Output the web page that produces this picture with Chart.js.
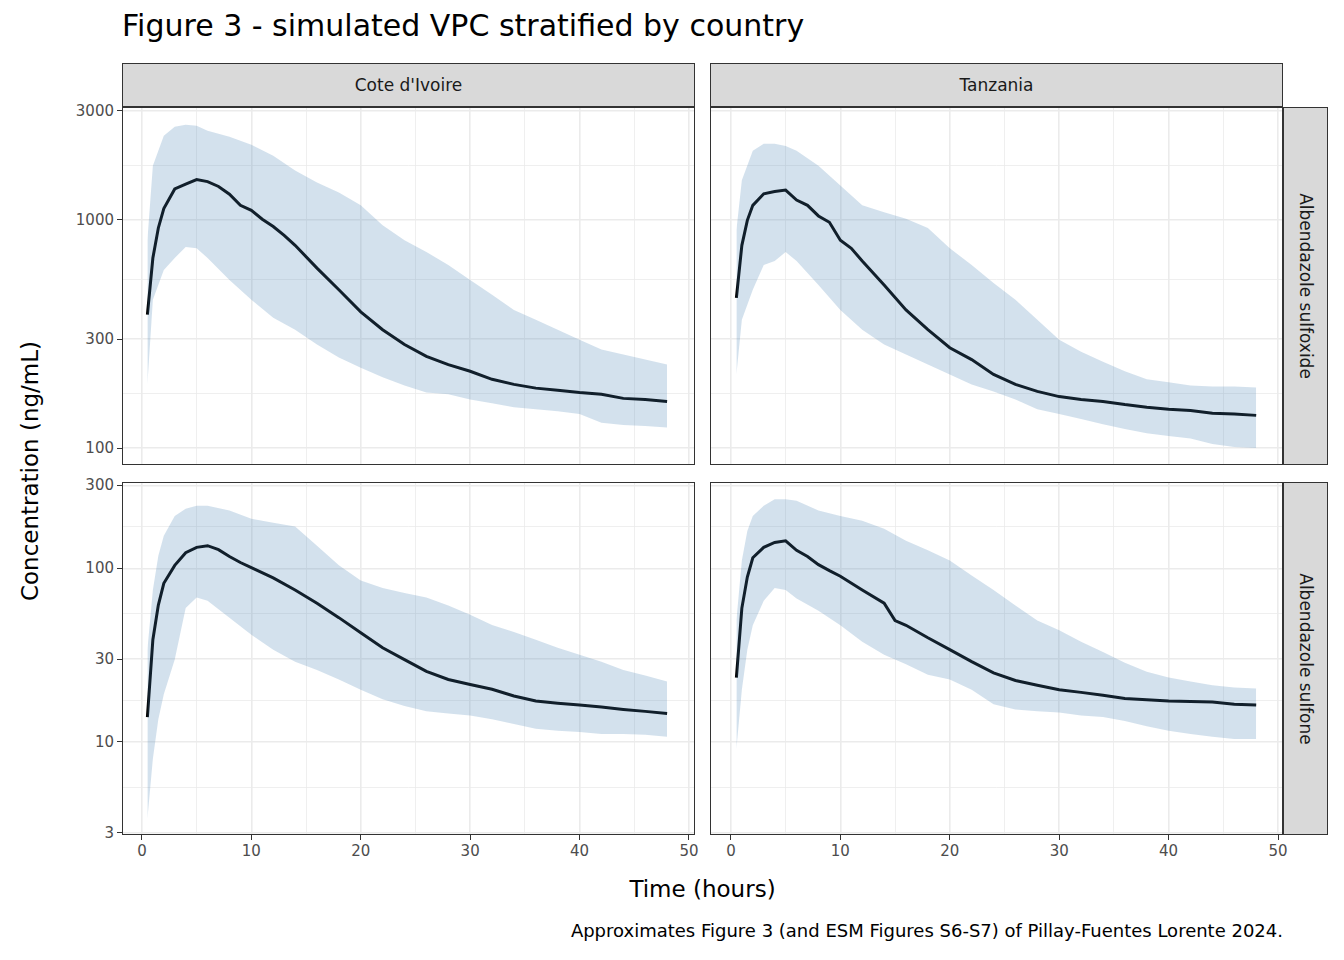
<!DOCTYPE html>
<html>
<head>
<meta charset="utf-8">
<script src="https://cdn.jsdelivr.net/npm/chart.js"></script>
<style>
  body { margin: 0; width: 1344px; height: 960px; background: #fff; font-family: "DejaVu Sans", sans-serif; position: relative; overflow: hidden; }
  .abs { position: absolute; }
  .panel { position: absolute; border: 1px solid #333; box-sizing: border-box; background: #fff; }
  .panel canvas { position: absolute; left: 0; top: 0; }
  .strip { position: absolute; background: #d9d9d9; border: 1px solid #333; box-sizing: border-box; color: #1a1a1a; font-size: 17px; display: flex; align-items: center; justify-content: center; }
  .vtext { transform: rotate(90deg); white-space: nowrap; }
  .tick { position: absolute; font-size: 15px; color: #4d4d4d; white-space: nowrap; }
  .tmark { position: absolute; background: #333; }
</style>
</head>
<body>
<div class="abs" style="left:122px;top:8px;font-size:30px;color:#000;">Figure 3 - simulated VPC stratified by country</div>
<div class="strip" style="left:122px;top:63px;width:573px;height:44px;">Cote d'Ivoire</div>
<div class="strip" style="left:710px;top:63px;width:573px;height:44px;">Tanzania</div>
<div class="strip" style="left:1283px;top:107px;width:45px;height:358px;"><span class="vtext">Albendazole sulfoxide</span></div>
<div class="strip" style="left:1283px;top:482px;width:45px;height:353px;"><span class="vtext">Albendazole sulfone</span></div>
<div class="abs" style="left:-110px;top:458px;width:280px;text-align:center;font-size:23px;transform:rotate(-90deg);white-space:nowrap;">Concentration (ng/mL)</div>
<div class="abs" style="left:122px;top:876px;width:1161px;text-align:center;font-size:23px;">Time (hours)</div>
<div class="abs" style="right:61px;top:920px;font-size:18px;color:#000;">Approximates Figure 3 (and ESM Figures S6-S7) of Pillay-Fuentes Lorente 2024.</div>
<div id="panels"></div>
<script>
// [time, p5, p95] band and [time, median]
const panels = [
  { id: 'ci-sox', left: 122, top: 107, h: 358, xmin: -1.73, xmax: 50.46, ymin: 85.1, ymax: 3090, majors: [100, 300, 1000, 3000],
    band: [[0.5,190,814],[1,446,1727],[2,603,2335],[3,680,2556],[4,760,2608],[5,750,2582],[6,680,2455],[8,545,2312],[10,446,2133],[12,372,1910],[14,330,1643],[16,284,1457],[18,249,1317],[20,225,1157],[22,204,946],[24,188,814],[26,175,722],[28,172,634],[30,163,545],[32,157,469],[34,151,403],[36,148,365],[38,145,330],[40,141,298],[42,129,270],[44,126,257],[46,125,244],[48,123,232]],
    med: [[0.5,384],[1,680],[1.5,921],[2,1120],[3,1366],[4,1433],[5,1500],[6,1470],[7,1400],[8,1295],[9,1157],[10,1100],[11,1006],[12,935],[13,855],[14,773],[16,614],[18,494],[20,395],[22,330],[24,284],[26,252],[28,232],[30,217],[32,200],[34,190],[36,183],[38,179],[40,175],[42,172],[44,165],[46,163],[48,160]] },
  { id: 'tz-sox', left: 710, top: 107, h: 358, xmin: -1.82, xmax: 50.36, ymin: 85.1, ymax: 3090, majors: [100, 300, 1000, 3000],
    band: [[0.5,210,900],[1,365,1489],[2,494,2009],[3,634,2155],[4,660,2155],[5,722,2105],[6,660,2009],[8,518,1727],[10,403,1414],[12,330,1157],[14,284,1080],[16,257,1010],[18,232,921],[20,210,750],[22,190,634],[24,177,529],[26,163,446],[28,148,365],[30,141,298],[32,134,264],[34,127,239],[36,121,217],[38,116,200],[40,113,194],[42,110,188],[44,104,186],[46,101,186],[48,100,184]],
    med: [[0.5,455],[1,773],[1.5,995],[2,1157],[3,1300],[4,1330],[5,1350],[6,1220],[7,1157],[8,1040],[9,975],[10,814],[11,750],[12,660],[14,518],[16,403],[18,330],[20,275],[22,244],[24,210],[26,190],[28,177],[30,168],[32,163],[34,160],[36,155],[38,151],[40,148],[42,146],[44,142],[46,141],[48,139]] },
  { id: 'ci-so2', left: 122, top: 482, h: 353, xmin: -1.73, xmax: 50.46, ymin: 2.95, ymax: 310, majors: [3, 10, 30, 100, 300],
    band: [[0.5,3.6,34],[1,8,75],[1.5,13.5,118],[2,18.8,154],[3,29.8,200],[4,59,220],[5,68,229],[6,65,229],[8,52,215],[10,41.4,193],[12,34,183],[14,29,174],[16,26,135],[18,22.9,104],[20,20,85],[22,17.6,77],[24,16.1,72],[26,15,68],[28,14.6,61],[30,14.2,54],[32,13.5,47.2],[34,12.7,43],[36,11.9,38.8],[38,11.6,34.9],[40,11.4,31.8],[42,11.1,29],[44,11.1,26],[46,11,24.1],[48,10.7,22.3]],
    med: [[0.5,13.9],[1,38.8],[1.5,61.4],[2,82],[3,104],[4,123],[5,132],[6,135],[7,128],[8,117],[9,108],[10,101],[12,88],[14,75],[16,63],[18,52],[20,42.5],[22,34.9],[24,29.8],[26,25.5],[28,22.9],[30,21.4],[32,20.1],[34,18.4],[36,17.2],[38,16.7],[40,16.3],[42,15.9],[44,15.4],[46,15],[48,14.6]] },
  { id: 'tz-so2', left: 710, top: 482, h: 353, xmin: -1.82, xmax: 50.36, ymin: 2.95, ymax: 310, majors: [3, 10, 30, 100, 300],
    band: [[0.5,9.1,50],[1,20,111],[1.5,34,164],[2,47,200],[3,65,229],[4,77,250],[5,75,250],[6,67,245],[8,57,215],[10,47,200],[12,37.8,188],[14,31.8,169],[16,28,144],[18,24.4,127],[20,22.9,111],[22,20,91],[24,16.5,75],[26,15.4,61],[28,15,50],[30,14.8,44],[32,14.2,37.8],[34,13.9,33],[36,13.2,28.6],[38,12.3,25.4],[40,11.6,23.5],[42,11.1,22.3],[44,10.7,21.2],[46,10.4,20.6],[48,10.4,20.3]],
    med: [[0.5,23.5],[1,59],[1.5,89],[2,115],[3,132],[4,141],[5,144],[6,127],[7,117],[8,105],[9,97],[10,90],[12,75],[14,63],[15,50],[16,47],[18,39.8],[20,34],[22,29],[24,25],[26,22.6],[28,21.2],[30,20],[32,19.3],[34,18.6],[36,17.8],[38,17.5],[40,17.2],[44,17],[46,16.5],[48,16.3]] }
];

const W = 573;
const xMajors = [0, 10, 20, 30, 40, 50];
const xTicks = [0, 5, 10, 15, 20, 25, 30, 35, 40, 45, 50];
const host = document.getElementById('panels');

panels.forEach((p, idx) => {
  const div = document.createElement('div');
  div.className = 'panel';
  div.style.cssText = `left:${p.left}px;top:${p.top}px;width:${W}px;height:${p.h}px;`;
  const cv = document.createElement('canvas');
  cv.width = W - 2;
  cv.height = p.h - 2;
  cv.style.width = (W - 2) + 'px';
  cv.style.height = (p.h - 2) + 'px';
  div.appendChild(cv);
  host.appendChild(div);

  const yTicks = [];
  p.majors.forEach((m, i) => {
    yTicks.push(m);
    if (i < p.majors.length - 1) yTicks.push(Math.sqrt(m * p.majors[i + 1]));
  });

  const chart = new Chart(cv, {
    type: 'line',
    data: {
      datasets: [
        { data: p.band.map(r => ({ x: r[0], y: r[1] })), borderWidth: 0, pointRadius: 0, fill: false },
        { data: p.band.map(r => ({ x: r[0], y: r[2] })), borderWidth: 0, pointRadius: 0, fill: '-1', backgroundColor: 'rgba(70,130,180,0.24)' },
        { data: p.med.map(r => ({ x: r[0], y: r[1] })), borderColor: '#000', borderWidth: 3, pointRadius: 0, fill: false, tension: 0 }
      ]
    },
    options: {
      responsive: false, animation: false, maintainAspectRatio: false,
      devicePixelRatio: 1,
      layout: { padding: 0 },
      plugins: { legend: { display: false }, tooltip: { enabled: false } },
      scales: {
        x: {
          type: 'linear', min: p.xmin, max: p.xmax,
          afterBuildTicks: s => { s.ticks = xTicks.map(v => ({ value: v })); },
          ticks: { display: false },
          border: { display: false },
          grid: { drawTicks: false, tickLength: 0,
            color: '#ebebeb',
            lineWidth: c => xMajors.includes(c.tick.value) ? 1.6 : 0.8 }
        },
        y: {
          type: 'logarithmic', min: p.ymin, max: p.ymax,
          afterBuildTicks: s => { s.ticks = yTicks.map(v => ({ value: v })); },
          ticks: { display: false },
          border: { display: false },
          grid: { drawTicks: false, tickLength: 0,
            color: '#ebebeb',
            lineWidth: c => p.majors.includes(c.tick.value) ? 1.6 : 0.8 }
        }
      }
    }
  });

  // tick labels on the outer panels
  if (idx % 2 === 0) {
    p.majors.forEach(m => {
      const y = p.top + 1 + chart.scales.y.getPixelForValue(m);
      const t = document.createElement('div');
      t.className = 'tick';
      t.style.cssText = `right:${1344 - p.left + 8}px;top:${y - 9}px;`;
      t.textContent = m;
      host.appendChild(t);
      const mk = document.createElement('div');
      mk.className = 'tmark';
      mk.style.cssText = `left:${p.left - 5}px;top:${y - 0.5}px;width:5px;height:1px;`;
      host.appendChild(mk);
    });
  }
  if (idx >= 2) {
    xMajors.forEach(v => {
      const x = p.left + 1 + chart.scales.x.getPixelForValue(v);
      const t = document.createElement('div');
      t.className = 'tick';
      t.style.cssText = `left:${x - 20}px;width:40px;text-align:center;top:${p.top + p.h + 7}px;`;
      t.textContent = v;
      host.appendChild(t);
      const mk = document.createElement('div');
      mk.className = 'tmark';
      mk.style.cssText = `left:${x - 0.5}px;top:${p.top + p.h}px;width:1px;height:5px;`;
      host.appendChild(mk);
    });
  }
});
</script>
</body>
</html>
